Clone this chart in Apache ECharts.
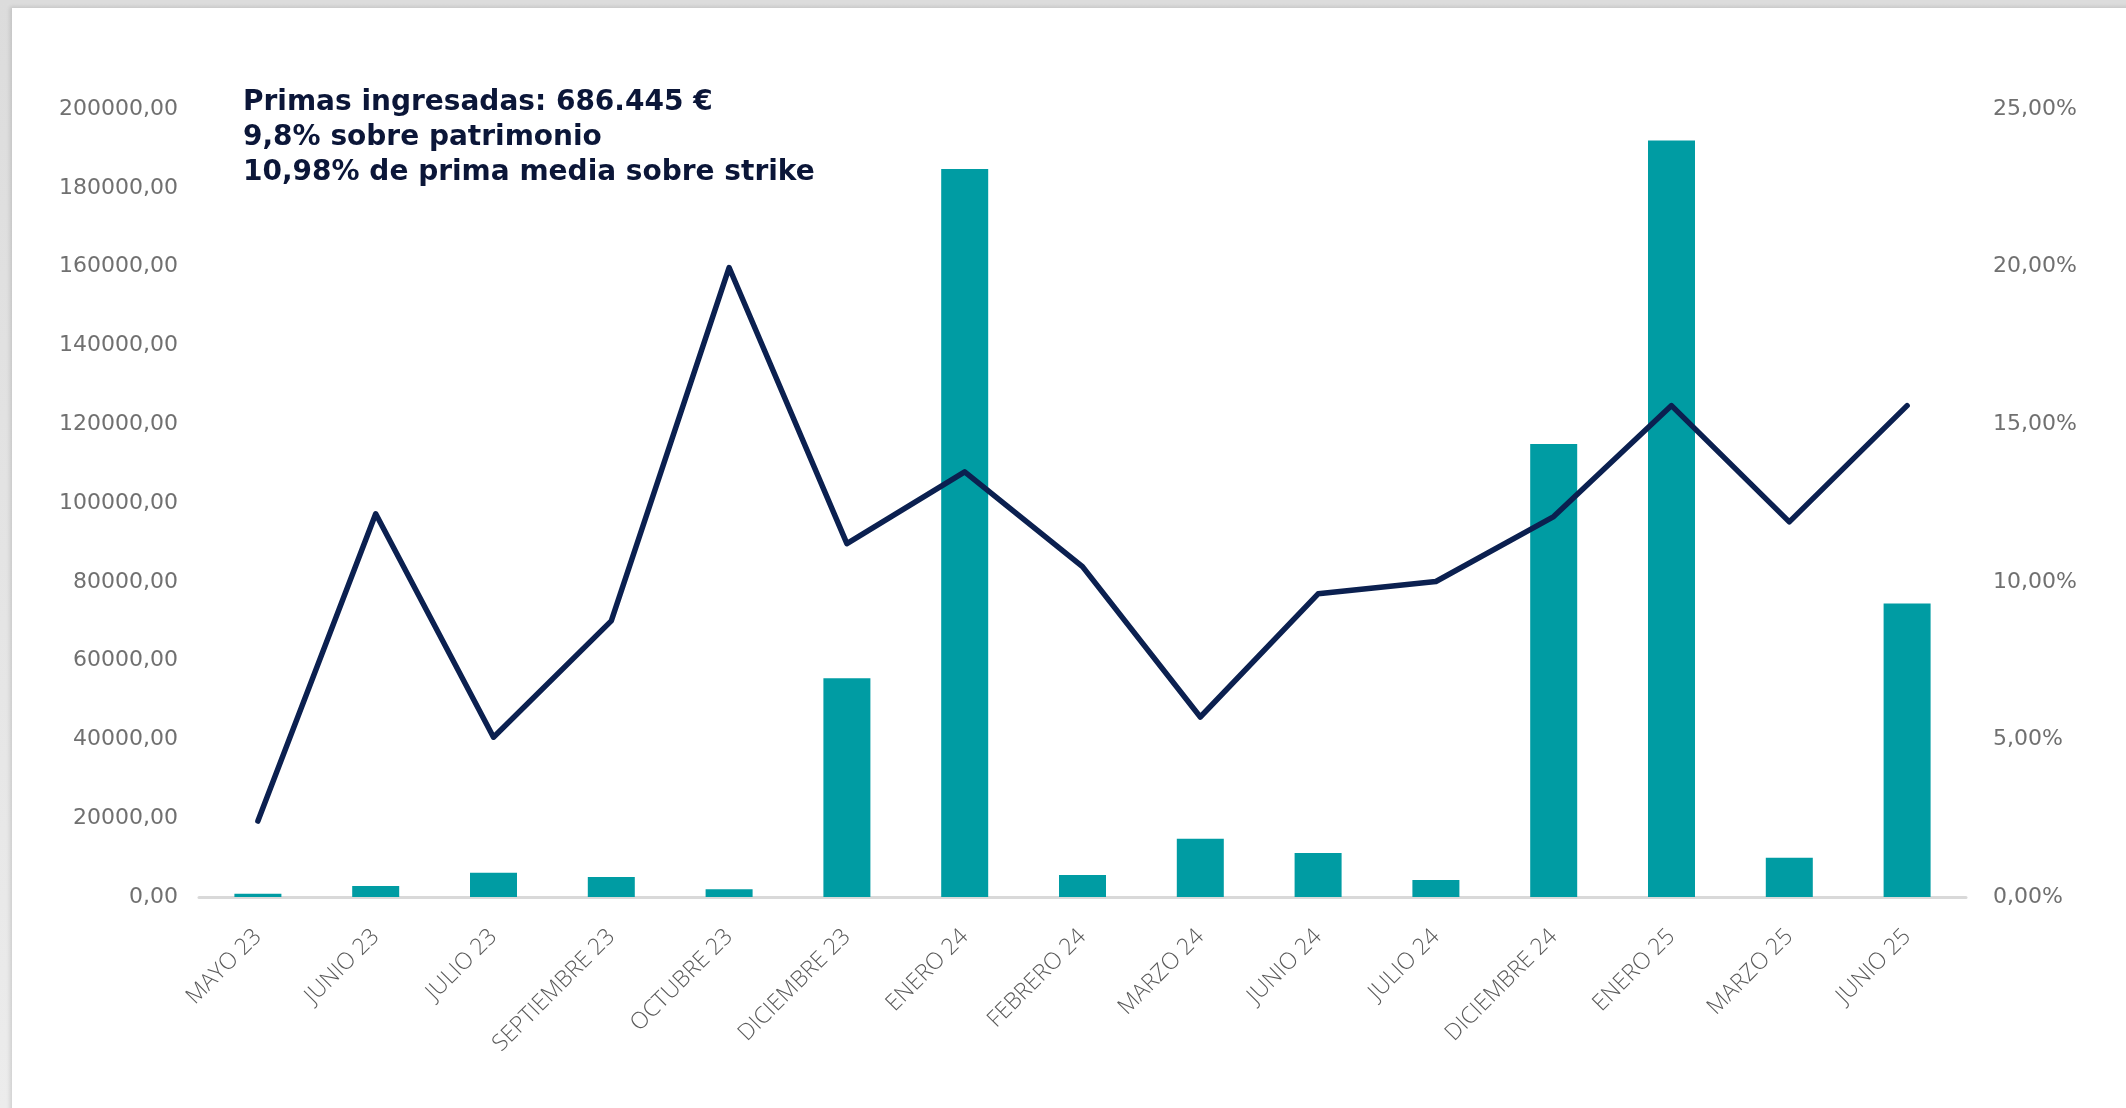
<!DOCTYPE html>
<html lang="es">
<head>
<meta charset="UTF-8">
<script src="https://cdn.jsdelivr.net/npm/echarts@6/dist/echarts.min.js"></script>
<title>Primas ingresadas</title>
<style>
  html, body { margin: 0; padding: 0; width: 2126px; height: 1108px; overflow: hidden;
    background: linear-gradient(#dcdcdc, #ececec); }
  #card { position: absolute; left: 12px; top: 8px; width: 2130px; height: 1110px; background: #fff;
    box-shadow: -2px -1px 4px rgba(0,0,0,0.12); }
  #chart { position: absolute; left: 0; top: 0; width: 2126px; height: 1108px; }
</style>
</head>
<body>
<div id="card"></div>
<div id="chart"></div>
<script>
// datos
const categories = ['MAYO 23', 'JUNIO 23', 'JULIO 23', 'SEPTIEMBRE 23', 'OCTUBRE 23', 'DICIEMBRE 23',
  'ENERO 24', 'FEBRERO 24', 'MARZO 24', 'JUNIO 24', 'JULIO 24', 'DICIEMBRE 24', 'ENERO 25', 'MARZO 25', 'JUNIO 25'];
// primas ingresadas en euros (barras)
const primas = [850, 2800, 6150, 5100, 1950, 55500, 184800, 5600, 14800, 11150, 4300, 115000, 192000, 9950, 74500];
// prima media sobre strike en % (linea)
const primaStrike = [2.41, 12.16, 5.07, 8.76, 19.97, 11.21, 13.49, 10.48, 5.71, 9.62, 10.01, 12.07, 15.59, 11.9, 15.59];
const leftTicks = { min: 0, max: 200000, interval: 20000 };
const rightTicks = { min: 0, max: 25, interval: 5 };
const summary = 'Primas ingresadas: 686.445 €\n9,8% sobre patrimonio\n10,98% de prima media sobre strike';

const chart = echarts.init(document.getElementById('chart'));
const fmt = v => v.toFixed(2).replace('.', ',');
const axisFont = 'DejaVu Sans, sans-serif';

chart.setOption({
  backgroundColor: 'transparent',
  animation: false,
  title: {
    text: summary,
    left: 238,
    top: 80,
    textStyle: { fontFamily: 'DejaVu Sans, sans-serif', fontWeight: 'bold', fontSize: 28, lineHeight: 35, color: '#0b1638' }
  },
  grid: { left: 199, right: 160, top: 109, bottom: 211 },
  xAxis: {
    type: 'category',
    data: categories,
    axisLine: { lineStyle: { color: '#d9d9d9', width: 3 } },
    axisTick: { show: false },
    axisLabel: { rotate: 45, margin: 36, color: '#5a5a5a', fontSize: 23, fontFamily: 'Open Sans, sans-serif', fontWeight: 300 }
  },
  yAxis: [
    {
      type: 'value', min: leftTicks.min, max: leftTicks.max, interval: leftTicks.interval,
      splitLine: { show: false }, axisLine: { show: false }, axisTick: { show: false },
      axisLabel: { formatter: v => fmt(v), margin: 21, color: '#707070', fontSize: 22, fontFamily: axisFont }
    },
    {
      type: 'value', min: rightTicks.min, max: rightTicks.max, interval: rightTicks.interval,
      splitLine: { show: false }, axisLine: { show: false }, axisTick: { show: false },
      axisLabel: { formatter: v => fmt(v) + '%', margin: 27, color: '#707070', fontSize: 22, fontFamily: axisFont }
    }
  ],
  series: [
    {
      type: 'bar',
      data: primas,
      barWidth: 47,
      itemStyle: { color: '#009ca3' }
    },
    {
      type: 'line',
      yAxisIndex: 1,
      data: primaStrike,
      symbol: 'none',
      lineStyle: { color: '#0b2050', width: 5.5, cap: 'round', join: 'round' }
    }
  ]
});
</script>
</body>
</html>
